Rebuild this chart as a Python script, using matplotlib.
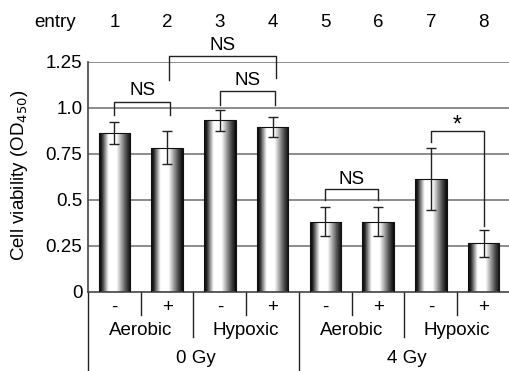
import numpy as np
import matplotlib.pyplot as plt

plt.rcParams['font.family'] = ['Liberation Sans', 'DejaVu Sans']

# data
entries = ['1', '2', '3', '4', '5', '6', '7', '8']
viability = [0.862, 0.785, 0.933, 0.895, 0.382, 0.382, 0.616, 0.264]
errors = [0.06, 0.088, 0.058, 0.055, 0.08, 0.08, 0.168, 0.075]
signs = ['-', '+', '-', '+', '-', '+', '-', '+']
oxygen = ['Aerobic', 'Hypoxic', 'Aerobic', 'Hypoxic']
doses = ['0 Gy', '4 Gy']
yticks = [0, 0.25, 0.5, 0.75, 1.0, 1.25]
ytick_labels = ['0', '0.25', '0.5', '0.75', '1.0', '1.25']

FS = 13.5

fig = plt.figure(figsize=(5.1, 3.71), dpi=100)
ax = fig.add_axes([88 / 510, 79 / 371, 422 / 510, 230 / 371])

x = np.arange(len(entries))

# grid
for yv in yticks[1:]:
    ax.axhline(yv, color='#8c8c8c', lw=1.4, zorder=1)

# cylinder style gradient for the bars
t = np.linspace(0, 1, 256)
prof = np.interp(t, [0, 0.08, 0.3, 0.55, 0.85, 1], [0.03, 0.12, 1, 1, 0.3, 0.03])
grad = prof[np.newaxis, :]

bars = ax.bar(x, viability, width=0.6, color='none', edgecolor='#111111', lw=0.8, zorder=3)
for b in bars:
    x0, w, h = b.get_x(), b.get_width(), b.get_height()
    im = ax.imshow(grad, cmap='gray', vmin=0, vmax=1, aspect='auto',
                   extent=[x0, x0 + w, 0, h], zorder=2, interpolation='bilinear')
    im.set_clip_path(b)
ax.set_xlim(-0.5, 7.5)
ax.set_ylim(0, 1.25)

ax.errorbar(x, viability, yerr=errors, fmt='none', ecolor='#222222', elinewidth=1.0,
            capsize=3.5, capthick=1.0, zorder=4)

# axes styling
for s in ['top', 'right']:
    ax.spines[s].set_visible(False)
for s in ['left', 'bottom']:
    ax.spines[s].set_color('#444444')
    ax.spines[s].set_linewidth(1.2)
ax.set_xticks([])
ax.set_yticks(yticks)
ax.set_yticklabels(ytick_labels, fontsize=FS)
ax.tick_params(axis='y', length=0, pad=4)

fig.text(20 / 510, 0.528, 'Cell viability (OD$_{450}$)', rotation=90,
         ha='center', va='center', fontsize=FS)


def bracket(x1, x2, y, y1, y2, label, ty, size=FS):
    ax.plot([x1, x1, x2, x2], [y1, y, y, y2], color='#222222', lw=1.0,
            clip_on=False, zorder=5)
    ax.text((x1 + x2) / 2, ty, label, ha='center', va='center', fontsize=size,
            clip_on=False)


bracket(0, 1.05, 1.031, 0.962, 0.962, 'NS', 1.094)
bracket(2, 3.05, 1.092, 1.016, 1.016, 'NS', 1.152)
bracket(1.03, 3.07, 1.284, 1.152, 1.163, 'NS', 1.34)
bracket(4, 5, 0.558, 0.5, 0.5, 'NS', 0.61)
bracket(6, 7, 0.875, 0.817, 0.36, '*', 0.905, size=FS + 3)

# entry row
for xi, lab in zip(x, entries):
    ax.text(xi, 1.464, lab, ha='center', va='center', fontsize=FS, clip_on=False)
ax.text(-1.13, 1.464, 'entry', ha='center', va='center', fontsize=FS, clip_on=False)

# table below the axis
lk = dict(color='#222222', lw=1.0, clip_on=False)
for xv in [0.5, 2.5, 4.5, 6.5]:
    ax.plot([xv, xv], [0, -0.125], **lk)
for xv in [1.5, 5.5]:
    ax.plot([xv, xv], [0, -0.245], **lk)
for xv in [-0.5, 3.5]:
    ax.plot([xv, xv], [0, -0.45], **lk)

for xi, s in zip(x, signs):
    ax.text(xi, -0.082, s, ha='center', va='center', fontsize=FS, clip_on=False)
for i, lab in enumerate(oxygen):
    ax.text(2 * i + 0.5, -0.207, lab, ha='center', va='center', fontsize=FS, clip_on=False)
for i, lab in enumerate(doses):
    ax.text(4 * i + 1.55, -0.364, lab, ha='center', va='center', fontsize=FS, clip_on=False)

fig.savefig('out.png', dpi=100)
